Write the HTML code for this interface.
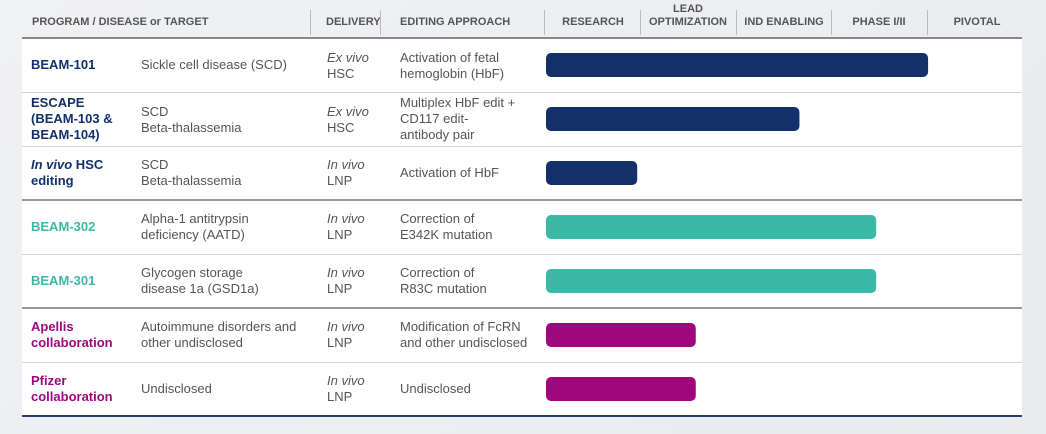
<!DOCTYPE html>
<html><head><meta charset="utf-8"><style>
body{margin:0;width:1046px;height:434px;overflow:hidden;background:linear-gradient(135deg,#f0f1f3,#e9ebee);font-family:"Liberation Sans",sans-serif;position:relative}
.a{position:absolute}
.hd{position:absolute;font-size:11px;font-weight:bold;color:#555;letter-spacing:0;text-align:center;line-height:13px}
.sep{position:absolute;top:10px;height:25px;width:1px;background:#bbb}
.t{position:absolute;font-size:13px;color:#555;line-height:16px}
.p{position:absolute;font-size:13px;font-weight:bold;line-height:16px}
.ln{position:absolute;left:22px;width:1000px;height:1px;background:#d4d4d4}
</style></head><body>
<div class="a" style="left:22px;top:38px;width:1000px;height:378px;background:#fff"></div>
<div class="hd" style="left:32px;top:16px;text-align:left">PROGRAM / DISEASE or TARGET</div>
<div class="hd" style="left:326px;top:16px">DELIVERY</div>
<div class="hd" style="left:400px;top:16px">EDITING APPROACH</div>
<div class="hd" style="left:546px;width:94px;top:16px">RESEARCH</div>
<div class="hd" style="left:640px;width:96px;top:3px">LEAD<br>OPTIMIZATION</div>
<div class="hd" style="left:736px;width:96px;top:16px">IND ENABLING</div>
<div class="hd" style="left:831px;width:96px;top:16px">PHASE I/II</div>
<div class="hd" style="left:927px;width:100px;top:16px">PIVOTAL</div>
<div class="sep" style="left:310px"></div><div class="sep" style="left:380px"></div><div class="sep" style="left:544px"></div><div class="sep" style="left:640px"></div><div class="sep" style="left:736px"></div><div class="sep" style="left:831px"></div><div class="sep" style="left:927px"></div>
<div class="ln" style="top:37px;height:2px;background:#888"></div>
<div class="ln" style="top:92px"></div><div class="ln" style="top:146px"></div>
<div class="ln" style="top:199px;height:2px;background:#999"></div>
<div class="ln" style="top:254px"></div>
<div class="ln" style="top:307px;height:2px;background:#999"></div>
<div class="ln" style="top:362px"></div>
<div class="ln" style="top:415px;height:2px;background:#2a3f6e"></div>

<div class="p" style="left:31px;top:57px;color:#13306b">BEAM-101</div>
<div class="t" style="left:141px;top:57px">Sickle cell disease (SCD)</div>
<div class="t" style="left:327px;top:50px"><i>Ex vivo</i><br>HSC</div>
<div class="t" style="left:400px;top:50px">Activation of fetal<br>hemoglobin (HbF)</div>

<div class="p" style="left:31px;top:95px;color:#13306b">ESCAPE<br>(BEAM-103 &amp;<br>BEAM-104)</div>
<div class="t" style="left:141px;top:104px">SCD<br>Beta-thalassemia</div>
<div class="t" style="left:327px;top:104px"><i>Ex vivo</i><br>HSC</div>
<div class="t" style="left:400px;top:95px">Multiplex HbF edit +<br>CD117 edit-<br>antibody pair</div>

<div class="p" style="left:31px;top:157px;color:#13306b"><i>In vivo</i> HSC<br>editing</div>
<div class="t" style="left:141px;top:157px">SCD<br>Beta-thalassemia</div>
<div class="t" style="left:327px;top:157px"><i>In vivo</i><br>LNP</div>
<div class="t" style="left:400px;top:165px">Activation of HbF</div>

<div class="p" style="left:31px;top:219px;color:#3bb9a6">BEAM-302</div>
<div class="t" style="left:141px;top:211px">Alpha-1 antitrypsin<br>deficiency (AATD)</div>
<div class="t" style="left:327px;top:211px"><i>In vivo</i><br>LNP</div>
<div class="t" style="left:400px;top:211px">Correction of<br>E342K mutation</div>

<div class="p" style="left:31px;top:273px;color:#3bb9a6">BEAM-301</div>
<div class="t" style="left:141px;top:265px">Glycogen storage<br>disease 1a (GSD1a)</div>
<div class="t" style="left:327px;top:265px"><i>In vivo</i><br>LNP</div>
<div class="t" style="left:400px;top:265px">Correction of<br>R83C mutation</div>

<div class="p" style="left:31px;top:319px;color:#a0067e">Apellis<br>collaboration</div>
<div class="t" style="left:141px;top:319px">Autoimmune disorders and<br>other undisclosed</div>
<div class="t" style="left:327px;top:319px"><i>In vivo</i><br>LNP</div>
<div class="t" style="left:400px;top:319px">Modification of FcRN<br>and other undisclosed</div>

<div class="p" style="left:31px;top:373px;color:#a0067e">Pfizer<br>collaboration</div>
<div class="t" style="left:141px;top:381px">Undisclosed</div>
<div class="t" style="left:327px;top:373px"><i>In vivo</i><br>LNP</div>
<div class="t" style="left:400px;top:381px">Undisclosed</div>

<svg class="a" style="left:0;top:0" width="1046" height="434" id="chart"></svg>
<script>
const programs=["BEAM-101","ESCAPE","In vivo HSC","BEAM-302","BEAM-301","Apellis","Pfizer"];
const progress=[3.98,2.64,0.95,3.44,3.44,1.56,1.56];
const colors=["#13306b","#13306b","#13306b","#3bb9a6","#3bb9a6","#a0067e","#a0067e"];
const x0=546,unit=96,rowTop=38,rowH=54,barH=24;
const xs=v=>x0+v*unit;
const ys=i=>rowTop+i*rowH+(rowH-barH)/2;
const svg=document.getElementById('chart');
progress.forEach((v,i)=>{
  const r=document.createElementNS('http://www.w3.org/2000/svg','rect');
  r.setAttribute('x',x0);r.setAttribute('y',ys(i));
  r.setAttribute('width',xs(v)-x0);r.setAttribute('height',barH);
  r.setAttribute('rx',5);r.setAttribute('fill',colors[i]);
  
  
  svg.appendChild(r);
});
</script>
</body></html>
